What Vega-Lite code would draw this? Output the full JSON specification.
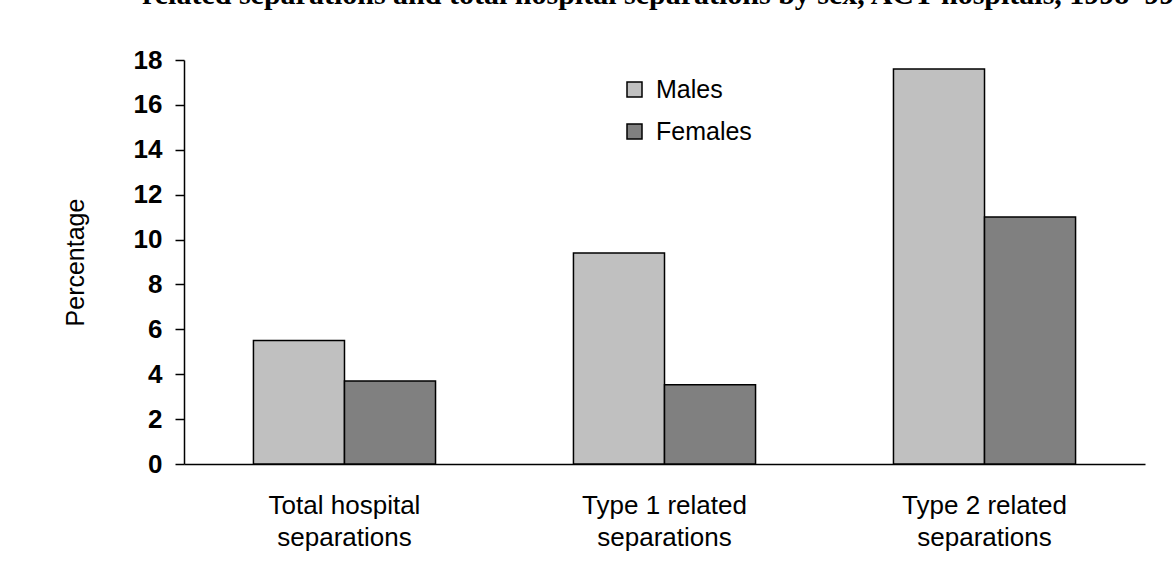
{
  "$schema": "https://vega.github.io/schema/vega-lite/v6.json",
  "width": 961,
  "height": 404,
  "autosize": {"type": "none"},
  "padding": {"left": 184, "top": 60, "right": 29, "bottom": 116},
  "background": "white",
  "title": {
    "text": "related separations and total hospital separations by sex, ACT hospitals, 1998–99",
    "anchor": "start",
    "frame": "group",
    "font": "Liberation Serif",
    "fontSize": 30,
    "fontWeight": "bold",
    "color": "black",
    "baseline": "alphabetic",
    "offset": 13,
    "dx": -42
  },
  "data": {
    "values": [
      {"category": "Total hospital separations", "sex": "Males", "percentage": 5.5},
      {"category": "Total hospital separations", "sex": "Females", "percentage": 3.7},
      {"category": "Type 1 related separations", "sex": "Males", "percentage": 9.4},
      {"category": "Type 1 related separations", "sex": "Females", "percentage": 3.53},
      {"category": "Type 2 related separations", "sex": "Males", "percentage": 17.6},
      {"category": "Type 2 related separations", "sex": "Females", "percentage": 11.0}
    ]
  },
  "mark": {"type": "bar", "stroke": "black", "strokeWidth": 1.5},
  "encoding": {
    "x": {
      "field": "category",
      "type": "nominal",
      "sort": ["Total hospital separations", "Type 1 related separations", "Type 2 related separations"],
      "scale": {"paddingInner": 0.431, "paddingOuter": 0.217},
      "axis": {
        "title": null,
        "labelAngle": 0,
        "ticks": false,
        "labelPadding": 28,
        "labelFont": "Liberation Sans",
        "labelFontSize": 26,
        "labelColor": "black",
        "labelLineHeight": 32,
        "labelExpr": "[replace(datum.label, ' separations', ''), 'separations']",
        "domainColor": "black",
        "domainWidth": 1.5,
        "labelLimit": 400
      }
    },
    "xOffset": {"field": "sex", "sort": ["Males", "Females"]},
    "y": {
      "field": "percentage",
      "type": "quantitative",
      "scale": {"domain": [0, 18], "nice": false},
      "axis": {
        "title": "Percentage",
        "values": [0, 2, 4, 6, 8, 10, 12, 14, 16, 18],
        "grid": false,
        "tickSize": 9,
        "tickColor": "black",
        "tickWidth": 1.5,
        "domainColor": "black",
        "domainWidth": 1.5,
        "labelPadding": 13,
        "labelFont": "Liberation Sans",
        "labelFontSize": 26,
        "labelFontWeight": "bold",
        "labelColor": "black",
        "titleFont": "Liberation Sans",
        "titleFontSize": 25,
        "titleFontWeight": "normal",
        "titleColor": "black",
        "titlePadding": 45
      }
    },
    "color": {
      "field": "sex",
      "type": "nominal",
      "sort": ["Males", "Females"],
      "scale": {"domain": ["Males", "Females"], "range": ["#C0C0C0", "#808080"]},
      "legend": {
        "title": null,
        "orient": "none",
        "legendX": 438,
        "legendY": 17,
        "padding": 0,
        "symbolType": "square",
        "symbolSize": 225,
        "symbolStrokeColor": "black",
        "symbolStrokeWidth": 1.5,
        "labelFont": "Liberation Sans",
        "labelFontSize": 25,
        "labelColor": "black",
        "labelOffset": 9,
        "rowPadding": 16
      }
    }
  },
  "config": {"view": {"stroke": null}}
}
